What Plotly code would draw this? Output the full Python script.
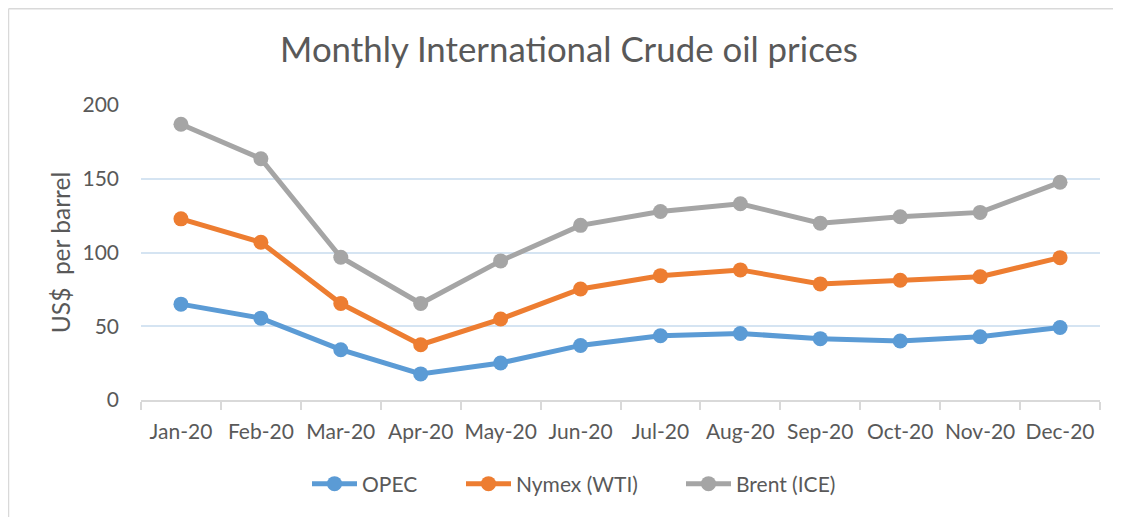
import plotly.graph_objects as go

# monthly prices, US$ per barrel (the chart stacks the three series)
months = ["Jan-20", "Feb-20", "Mar-20", "Apr-20", "May-20", "Jun-20",
          "Jul-20", "Aug-20", "Sep-20", "Oct-20", "Nov-20", "Dec-20"]
opec = [65.0, 55.5, 34.1, 17.7, 25.1, 37.0, 43.6, 45.1, 41.6, 40.0, 42.9, 49.2]
nymex = [57.8, 51.4, 31.3, 19.8, 29.8, 38.3, 40.7, 43.1, 37.1, 41.2, 40.7, 47.3]
brent = [64.2, 56.7, 31.4, 27.9, 39.4, 43.1, 43.5, 44.8, 41.2, 43.0, 43.6, 51.1]

series = [("OPEC", opec, "#5b9bd5"),
          ("Nymex (WTI)", nymex, "#ed7d31"),
          ("Brent (ICE)", brent, "#a5a5a5")]

fnt = "Lato, 'Open Sans', sans-serif"
W, H = 1121, 517
# the page body has an 8px margin, so figure px = screen px - 8
L, R, T, B = 133, 1092, 97, 392.5

# each entry gets its own legend so the spacing can follow the picture
leg_x = [299, 453, 673]
legs = ["legend", "legend2", "legend3"]

fig = go.Figure()
for (name, vals, col), lg in zip(series, legs):
    fig.add_trace(go.Scatter(x=months, y=vals, name=name, mode="lines+markers",
                             stackgroup="one", fill="none", legend=lg,
                             line=dict(color=col, width=5),
                             marker=dict(color=col, size=15)))

legend_style = dict(orientation="h", xref="container", yref="container", xanchor="left",
                    y=1 - 476 / H, yanchor="middle", font=dict(size=21, color="#595959"),
                    bgcolor="rgba(0,0,0,0)", itemwidth=45)

fig.update_layout(
    width=W, height=H,
    margin=dict(l=L, r=W - R, t=T, b=H - B, autoexpand=False),
    paper_bgcolor="white", plot_bgcolor="white",
    font=dict(family=fnt, color="#595959", size=21),
    title=dict(text="Monthly International Crude oil prices", x=561 / W, xref="container",
               xanchor="center", y=1 - 42 / H, yanchor="middle",
               font=dict(size=34.8, color="#595959", family=fnt)),
    xaxis=dict(showgrid=False, showline=True, linecolor="#d9d9d9", linewidth=1.5,
               range=[-0.5, len(months) - 0.5], tickangle=0,
               ticks="outside", tickson="boundaries", ticklen=8, tickcolor="#d9d9d9",
               tickwidth=1.5, automargin=False, ticklabelstandoff=12,
               tickfont=dict(size=21, color="#595959")),
    yaxis=dict(range=[0, 200], dtick=50, showgrid=True, gridcolor="#d5e4f2", gridwidth=1.5,
               zeroline=False, showline=False, ticklabelstandoff=21, automargin=False,
               tickfont=dict(size=21, color="#595959"),
               title=dict(text="US$  per barrel", standoff=4,
                          font=dict(size=24.5, color="#595959"))),
    legend=dict(legend_style, x=leg_x[0] / W),
    legend2=dict(legend_style, x=leg_x[1] / W),
    legend3=dict(legend_style, x=leg_x[2] / W),
    showlegend=True,
)

# chart border: only the top and left edges show in the picture
pw, ph = R - L, B - T
fig.add_shape(type="line", xref="paper", yref="paper",
              x0=(0.5 - L) / pw, x1=(W + 5 - L) / pw, y0=(B - 0.5) / ph, y1=(B - 0.5) / ph,
              line=dict(color="#d9d9d9", width=1.5), layer="below")
fig.add_shape(type="line", xref="paper", yref="paper",
              x0=(0.5 - L) / pw, x1=(0.5 - L) / pw, y0=(B - 0.5) / ph, y1=(B - H - 5) / ph,
              line=dict(color="#d9d9d9", width=1.5), layer="below")

fig.write_html("out.html")
